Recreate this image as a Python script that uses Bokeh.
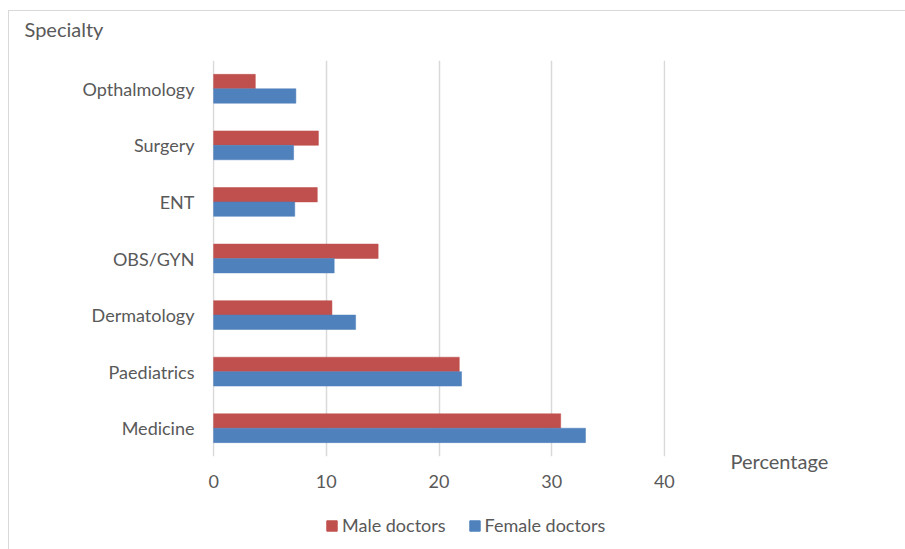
from bokeh.plotting import figure
from bokeh.layouts import column, row
from bokeh.models import (FactorRange, Range1d, Label, Legend, LegendItem,
                          ColumnDataSource, FixedTicker)
from bokeh.transform import dodge
from bokeh.embed import file_html
from bokeh.resources import INLINE

specialties = ["Medicine", "Paediatrics", "Dermatology", "OBS/GYN", "ENT", "Surgery", "Opthalmology"]
male = [30.8, 21.8, 10.5, 14.6, 9.2, 9.3, 3.7]
female = [33.0, 22.0, 12.6, 10.7, 7.2, 7.1, 7.3]
x_ticks = [0, 10, 20, 30, 40]
series_names = ["Male doctors", "Female doctors"]
series_colors = ["#c0504d", "#4f81bd"]

FONT = "Lato"
TXT = "#595959"
FS = "18px"


def blank(w, h):
    f = figure(width=w, height=h, output_backend="svg", toolbar_location=None,
               x_axis_type=None, y_axis_type=None, min_border=0,
               x_range=Range1d(0, 1), y_range=Range1d(0, 1))
    f.outline_line_color = None
    return f


src = ColumnDataSource(dict(spec=specialties, male=male, female=female))

p = figure(width=700, height=451, output_backend="svg", toolbar_location=None,
           y_range=FactorRange(factors=specialties), x_range=Range1d(-0.1, 40.1),
           min_border_left=203, min_border_right=44, min_border_top=0, min_border_bottom=55)
p.outline_line_color = None

rm = p.hbar(y=dodge("spec", 0.1275, range=p.y_range), right="male", left=0, height=0.255,
            source=src, fill_color=series_colors[0], line_color=series_colors[0], line_alpha=0.5)
rf = p.hbar(y=dodge("spec", -0.1275, range=p.y_range), right="female", left=0, height=0.255,
            source=src, fill_color=series_colors[1], line_color=series_colors[1], line_alpha=0.5)

p.xaxis.ticker = FixedTicker(ticks=x_ticks)
p.xaxis.axis_line_color = None
p.xaxis.major_tick_line_color = None
p.xaxis.minor_tick_line_color = None
p.xaxis.major_tick_out = 0
p.xaxis.major_tick_in = 0
p.xaxis.major_label_standoff = 18
p.xaxis.major_label_text_font = FONT
p.xaxis.major_label_text_font_size = FS
p.xaxis.major_label_text_color = TXT

p.yaxis.axis_line_color = None
p.yaxis.major_tick_line_color = None
p.yaxis.minor_tick_line_color = None
p.yaxis.major_tick_out = 0
p.yaxis.major_tick_in = 0
p.yaxis.major_label_standoff = 18
p.yaxis.major_label_text_font = FONT
p.yaxis.major_label_text_font_size = FS
p.yaxis.major_label_text_color = TXT

p.ygrid.grid_line_color = None
p.xgrid.grid_line_color = "#d9d9d9"
p.xgrid.grid_line_width = 1.5

# top strip with the vertical axis title
top = blank(897, 49)
top.add_layout(Label(x=15, y=32, x_units="screen", y_units="screen", text="Specialty",
                     text_font=FONT, text_font_size="20px", text_color=TXT, text_baseline="middle"))

# right strip with the horizontal axis title
side = blank(197, 451)
side.add_layout(Label(x=21, y=51, x_units="screen", y_units="screen", text="Percentage",
                      text_font=FONT, text_font_size="20px", text_color=TXT, text_baseline="middle"))

# bottom strip with the legend
bot = blank(897, 38)
nan = float("nan")
dummy = ColumnDataSource(dict(y=[nan], right=[nan]))
lr = [bot.hbar(y="y", right="right", height=0.5, source=dummy,
               fill_color=c, line_color=c) for c in series_colors]
legend = Legend(items=[LegendItem(label=n, renderers=[r]) for n, r in zip(series_names, lr)],
                orientation="horizontal", location=(316, 13),
                border_line_color=None, background_fill_alpha=0, padding=0, margin=0,
                glyph_width=13, glyph_height=13, label_standoff=4, spacing=22,
                label_height=20, label_text_font=FONT, label_text_font_size=FS,
                label_text_color=TXT)
bot.add_layout(legend, "center")

layout = column(top, row(p, column(side)), bot)
layout.margin = (10, 0, 0, 8)
layout.styles = {"border-top": "1px solid #d9d9d9", "border-left": "1px solid #d9d9d9"}

open("out.html", "w").write(file_html(layout, INLINE))
